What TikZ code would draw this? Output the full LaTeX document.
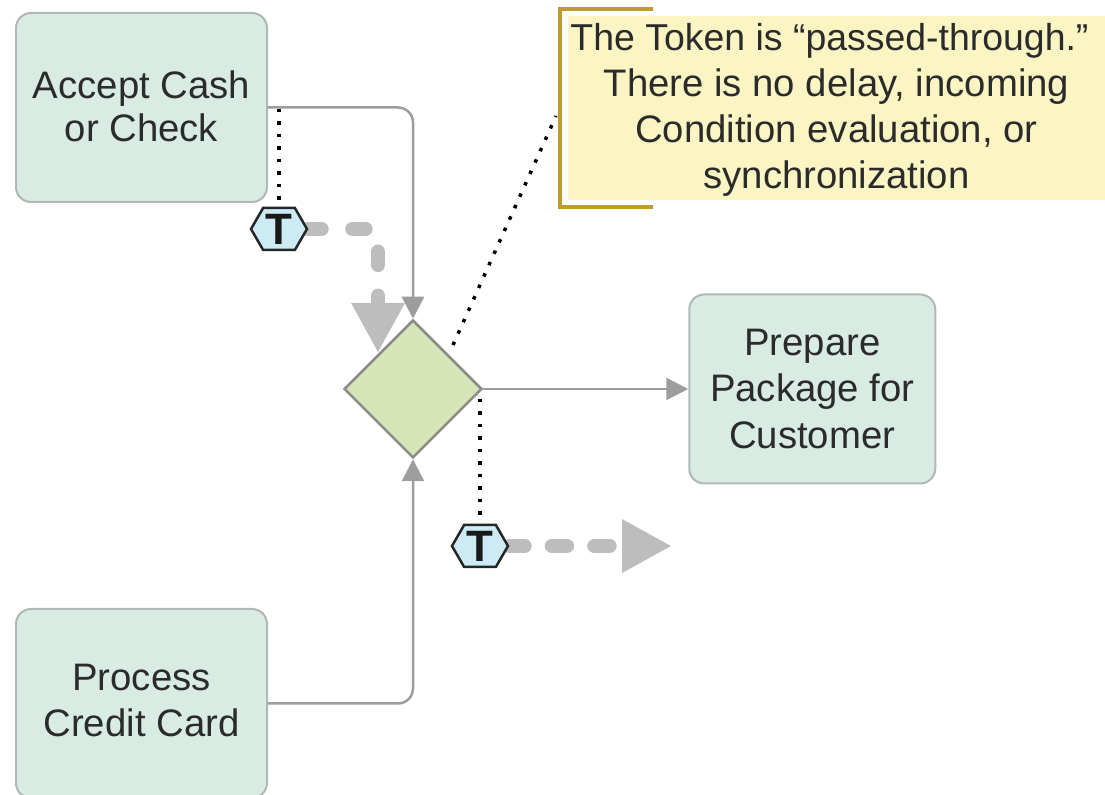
\documentclass[tikz,border=0pt]{standalone}
\usepackage{fontspec}
\setmainfont{Liberation Sans}
\usetikzlibrary{arrows.meta,positioning,backgrounds,shapes.geometric,shapes.symbols}
\definecolor{boxfill}{HTML}{D8ECE4}
\definecolor{boxline}{HTML}{B0B8B5}
\definecolor{gatefill}{HTML}{D6E5B8}
\definecolor{flowgray}{HTML}{8C8C8C}
\definecolor{trailgray}{HTML}{BDBDBD}
\definecolor{notefill}{HTML}{FBF5C4}
\definecolor{notegold}{HTML}{BF9B30}
\definecolor{tokenfill}{HTML}{CDEBF5}
\definecolor{inktext}{HTML}{2B2B2B}

\begin{document}
\begin{tikzpicture}[
    label text/.style={font=\fontsize{21.8}{26.2}\selectfont, text=inktext, align=center},
    task/.style={rectangle, rounded corners=0.3cm, draw=boxline, line width=0.04cm, fill=boxfill, minimum width=5.02cm, minimum height=3.78cm, label text},
    gate/.style={diamond, aspect=1, inner sep=0pt, draw=flowgray, line width=0.05cm, fill=gatefill, minimum size=2.76cm},
    note/.style={rectangle, fill=notefill, minimum width=10.74cm, minimum height=3.68cm, inner sep=0pt, label text},
    token/.style={signal, signal to=east and west, signal pointer angle=120, draw=black!85, line width=0.05cm, fill=tokenfill, minimum width=1.12cm, minimum height=0.84cm, inner sep=0pt, font=\fontsize{25}{25}\selectfont\bfseries, text=black!90},
    flow/.style={-{Triangle[length=0.44cm,width=0.44cm]}, draw=flowgray!85, line width=0.05cm, rounded corners=0.3cm},
    trail/.style={-{Triangle[length=1cm,width=1cm]}, draw=trailgray, line width=0.29cm, line cap=round, dash pattern=on 0.26cm off 0.62cm, rounded corners=0.2cm},
    dots/.style={draw=black, line width=0.07cm, dash pattern=on 0.07cm off 0.18cm},
    bracket/.style={draw=notegold, line width=0.08cm},
]
    \useasboundingbox (0,0) rectangle (22.1,15.9);

    \node[task, text depth=0.06cm] (accept) at (2.83,13.75) {Accept Cash\\[-1.5pt]or Check};
    \node[task, text depth=0.12cm, below=8.1cm of accept] (process) {Process\\Credit Card};
    \node[gate] (merge) at (8.26,8.12) {};
    \node[task, minimum width=4.92cm, right=4.1cm of merge] (prepare) {Prepare\\Package for\\Customer};
    \node[note] (remark) at (16.73,13.74) {{\fontsize{21.3}{26.2}\selectfont\rule{0pt}{17.2pt}The Token is “passed-through.”\hspace*{0.28cm}}\\There is no delay, incoming\\Condition evaluation, or\\synchronization};
    \node[token] (tokenin) at (5.58,11.32) {T};
    \node[token] (tokenout) at (9.6,4.98) {T};

    \coordinate (trailin) at (7.56,8.84);
    \coordinate (trailout) at (13.44,4.98);
    \coordinate (dotsfrom) at (9.06,9);
    \coordinate (dotsto) at (11.12,13.58);

    % sequence flows
    \draw[flow] (accept.east) -| (merge.north);
    \draw[flow] (process.east) -| (merge.south);
    \draw[flow] (merge.east) -- (prepare.west);

    % token paths and dotted associations, behind the tokens
    \begin{scope}[on background layer]
        \draw[trail] (tokenin.east) -| (trailin);
        \draw[trail, dash pattern=on 0.3cm off 0.55cm] (tokenout.east) -- (trailout);
        \draw[dots, shorten <=0.03cm] (tokenin.north |- accept.east) -- (tokenin.north);
        \draw[dots, shorten <=0.2cm] (tokenout.north |- merge.east) -- (tokenout.north);
    \end{scope}
    \draw[dots] (dotsfrom) -- (dotsto);

    % note bracket
    \draw[bracket] ([xshift=1.7cm,yshift=0.13cm]remark.north west) -| ([xshift=-0.16cm,yshift=-0.14cm]remark.south west) -- ++(1.86cm,0);
\end{tikzpicture}
\end{document}
